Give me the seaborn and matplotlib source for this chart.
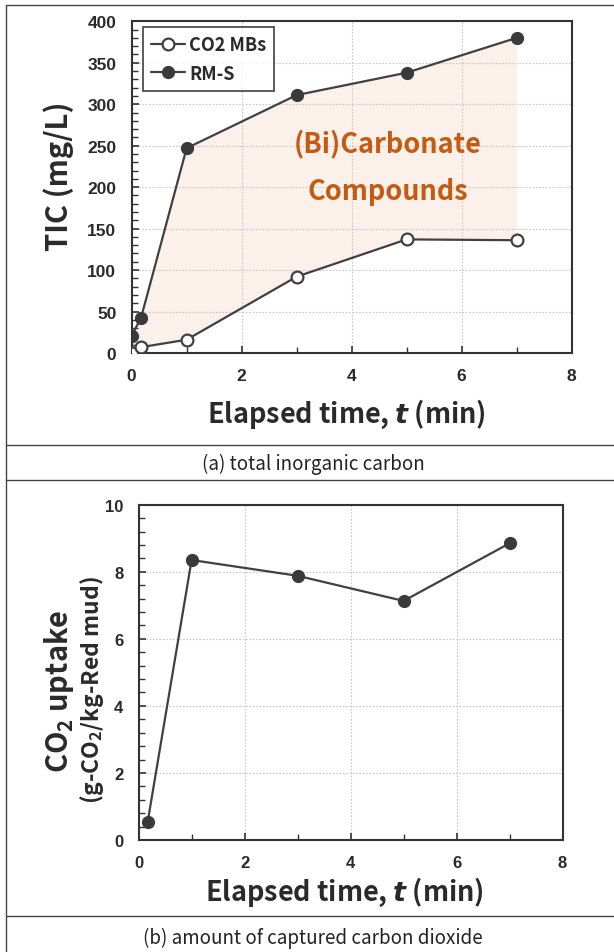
import matplotlib
matplotlib.use("Agg")
import matplotlib.pyplot as plt
import seaborn as sns
import pandas as pd
from matplotlib.lines import Line2D
from matplotlib.ticker import MultipleLocator

# ---- data ----
time_a = [0, 0.17, 1, 3, 5, 7]
co2_mbs = [0, 7, 16, 92, 137, 136]
rm_s = [21, 42, 247, 311, 338, 380]

time_b = [0.17, 1, 3, 5, 7]
co2_uptake = [0.53, 8.35, 7.88, 7.13, 8.85]

x_ticks = [0, 2, 4, 6, 8]
y_ticks_a = [0, 50, 100, 150, 200, 250, 300, 350, 400]
y_ticks_b = [0, 2, 4, 6, 8, 10]

sns.set_theme(style="white")
plt.rcParams['font.family'] = ['Liberation Sans', 'DejaVu Sans']
plt.rcParams['mathtext.fontset'] = 'custom'
plt.rcParams['mathtext.bfit'] = 'DejaVu Sans:italic:bold'
plt.rcParams['mathtext.default'] = 'regular'

W, H = 614, 953
fig = plt.figure(figsize=(W / 100, H / 100), dpi=100)
fig.patch.set_facecolor('white')


def fx(x):
    return x / W


def fy(y):
    return 1 - y / H


def axes_px(l, t, r, b):
    return fig.add_axes([fx(l), fy(b), fx(r) - fx(l), fy(t) - fy(b)])


LINE = '#404040'
LABEL_FONT = ['Noto Sans CJK KR', 'DejaVu Sans']

ax1 = axes_px(131.6, 22.3, 571.6, 354)
ax2 = axes_px(138.6, 505.7, 562.6, 841)

df_a = pd.DataFrame({'t': time_a, 'mbs': co2_mbs, 'rms': rm_s})
df_b = pd.DataFrame({'t': time_b, 'up': co2_uptake})

# fill between
ax1.fill_between(df_a['t'], df_a['mbs'], df_a['rms'], color='#fcf0ea', zorder=0, lw=0)

sns.lineplot(data=df_a, x='t', y='mbs', ax=ax1, color=LINE, lw=1.6, marker='o',
             markersize=8.5, markerfacecolor='white', markeredgecolor=LINE,
             markeredgewidth=1.6, label='CO2 MBs', zorder=3, legend=False)
sns.lineplot(data=df_a, x='t', y='rms', ax=ax1, color=LINE, lw=1.6, marker='o',
             markersize=8.5, markerfacecolor='#3a3a3a', markeredgecolor='#3a3a3a',
             markeredgewidth=1.0, label='RM-S', zorder=3, legend=False)

sns.lineplot(data=df_b, x='t', y='up', ax=ax2, color=LINE, lw=1.6, marker='o',
             markersize=8.5, markerfacecolor='#3a3a3a', markeredgecolor='#3a3a3a',
             markeredgewidth=1.0, zorder=3, legend=False)


def style_axis(ax, yticks, yminor, ylim, tick_size):
    ax.set_xlim(0, 8)
    ax.set_ylim(*ylim)
    ax.set_xticks(x_ticks)
    ax.set_yticks(yticks)
    ax.xaxis.set_minor_locator(MultipleLocator(1))
    ax.yaxis.set_minor_locator(MultipleLocator(yminor))
    ax.set_xlabel('')
    ax.set_ylabel('')
    ax.grid(True, which='major', color='#c8c8c8', ls=(0, (1.5, 1.5)), lw=0.8)
    ax.set_axisbelow(True)
    for s in ax.spines.values():
        s.set_color('#333333')
        s.set_linewidth(1.5)
        s.set_visible(True)
    ax.tick_params(axis='both', which='both', direction='in', colors='#333333',
                   top=False, right=False, left=True, bottom=True)
    ax.tick_params(axis='both', which='major', length=5, width=1.2,
                   labelsize=tick_size, pad=11, labelcolor='#2a2a2a')
    ax.tick_params(axis='both', which='minor', length=4, width=1.0)
    for lab in ax.get_xticklabels() + ax.get_yticklabels():
        lab.set_fontweight('bold')
    ax.set_facecolor('white')


style_axis(ax1, y_ticks_a, 10, (0, 400), 12.5)
style_axis(ax2, y_ticks_b, 0.4, (0, 10), 12)

# legend
handles = ax1.get_lines()[:2]
leg = ax1.legend(handles=handles, labels=['CO2 MBs', 'RM-S'], loc='upper left',
                 bbox_to_anchor=((143 - 131.6) / 440, (354 - 27.7) / 331.7),
                 borderaxespad=0, frameon=True, fancybox=False, handlelength=1.9,
                 handletextpad=0.2, borderpad=0.45, labelspacing=0.55,
                 prop={'family': LABEL_FONT, 'weight': 'bold', 'size': 13})
leg.get_frame().set_edgecolor('#222222')
leg.get_frame().set_linewidth(1.3)
for txt in leg.get_texts():
    txt.set_color('#2a2a2a')

# annotation
ax1.text(fx(388), fy(144), '(Bi)Carbonate', transform=fig.transFigure,
         ha='center', va='center', color='#c55a11', fontsize=19.5, fontweight='bold',
         family=LABEL_FONT)
ax1.text(fx(388), fy(192), 'Compounds', transform=fig.transFigure,
         ha='center', va='center', color='#c55a11', fontsize=19.5, fontweight='bold',
         family=LABEL_FONT)

# axis labels
fig.text(fx(59), fy(176), 'TIC (mg/L)', rotation=90, ha='center', va='center',
         fontsize=21, fontweight='bold', family=LABEL_FONT, color='#2a2a2a')
fig.text(fx(346), fy(414), r'Elapsed time, $\mathbfit{t}$ (min)', ha='center',
         va='center', fontsize=19.5, fontweight='bold', family=LABEL_FONT, color='#2a2a2a')
fig.text(fx(344), fy(892), r'Elapsed time, $\mathbfit{t}$ (min)', ha='center',
         va='center', fontsize=19.5, fontweight='bold', family=LABEL_FONT, color='#2a2a2a')
fig.text(fx(59), fy(691), r'CO$_2$ uptake', rotation=90, ha='center', va='center',
         fontsize=21, fontweight='bold', family=LABEL_FONT, color='#2a2a2a')
fig.text(fx(91.5), fy(690), r'(g-CO$_2$/kg-Red mud)', rotation=90, ha='center',
         va='center', fontsize=16.5, fontweight='bold', family=LABEL_FONT, color='#2a2a2a')

# captions
fig.text(fx(313), fy(464), '(a) total inorganic carbon', ha='center', va='center',
         fontsize=13.5, family=LABEL_FONT, color='#222222')
fig.text(fx(313), fy(938), '(b) amount of captured carbon dioxide', ha='center',
         va='center', fontsize=13.5, family=LABEL_FONT, color='#222222')

# table frame lines
for yy in [6, 446, 481, 917]:
    fig.add_artist(Line2D([fx(6), 1], [fy(yy), fy(yy)], color='#444444', lw=1.0))
fig.add_artist(Line2D([fx(6), fx(6)], [fy(6), 0], color='#444444', lw=1.0))

fig.savefig('out.png', dpi=100, facecolor='white')
